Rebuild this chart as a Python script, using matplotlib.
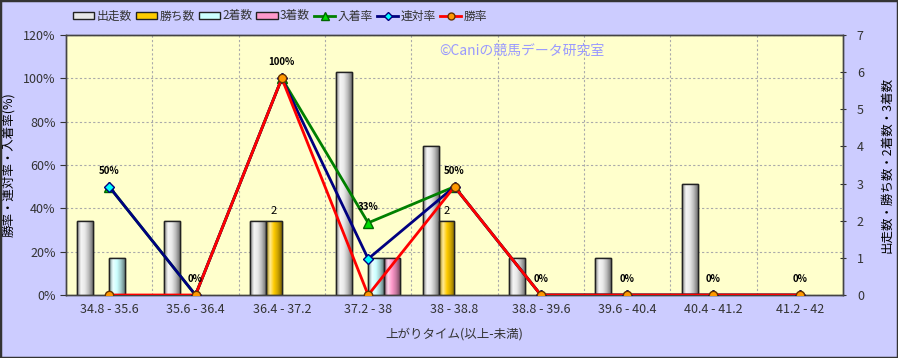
import numpy as np
import matplotlib.pyplot as plt
from matplotlib.patches import Patch, Rectangle
from matplotlib.lines import Line2D
from matplotlib.colors import LinearSegmentedColormap, to_rgb

plt.rcParams['font.family'] = ['Noto Sans CJK JP', 'DejaVu Sans']

# data
categories = ["34.8 - 35.6", "35.6 - 36.4", "36.4 - 37.2", "37.2 - 38", "38 - 38.8",
              "38.8 - 39.6", "39.6 - 40.4", "40.4 - 41.2", "41.2 - 42"]
runs = [2, 2, 2, 6, 4, 1, 1, 3, 0]          # 出走数
wins = [0, 0, 2, 0, 2, 0, 0, 0, 0]          # 勝ち数
seconds = [1, 0, 0, 1, 0, 0, 0, 0, 0]       # 2着数
thirds = [0, 0, 0, 1, 0, 0, 0, 0, 0]        # 3着数
place_rate = [50, 0, 100, 33.3, 50, 0, 0, 0, 0]    # 入着率
quinella_rate = [50, 0, 100, 16.7, 50, 0, 0, 0, 0]  # 連対率
win_rate = [0, 0, 100, 0, 50, 0, 0, 0, 0]           # 勝率
place_labels = ["50%", "0%", "100%", "33%", "50%", "0%", "0%", "0%", "0%"]

BG = "#CCCCFF"
PLOT_BG = "#FFFFCC"
TXT = "#333333"


def shade(col):
    """cylinder-like colormap: dark edge -> light middle -> dark edge"""
    c = np.array(to_rgb(col))
    dark = c * 0.55
    light = c + (1 - c) * 0.6
    return LinearSegmentedColormap.from_list("s", [dark, light, c, c * 0.8, dark * 0.9])


fig = plt.figure(figsize=(8.98, 3.58), dpi=100, facecolor=BG)
ax = fig.add_axes([66 / 898, 63 / 358, 777 / 898, 260 / 358])
ax.set_facecolor(PLOT_BG)
ax2 = ax.twinx()

x = np.arange(len(categories))
w = 0.185
bar_series = [
    (runs, "#E8E8E8", "出走数"),
    (wins, "#FFCC00", "勝ち数"),
    (seconds, "#CCFFFF", "2着数"),
    (thirds, "#FF99CC", "3着数"),
]
grad = np.linspace(0, 1, 64).reshape(1, -1)
for k, (vals, col, name) in enumerate(bar_series):
    vals = np.array(vals, dtype=float)
    keep = vals > 0
    bars = ax2.bar(x[keep] + (k - 1.5) * w, vals[keep], width=w, color=col,
                   edgecolor="#222222", linewidth=1.0, zorder=2)
    for b in bars:
        x0, y0 = b.get_x(), b.get_y()
        im = ax2.imshow(grad, extent=(x0, x0 + b.get_width(), y0, y0 + b.get_height()),
                        aspect="auto", cmap=shade(col), zorder=2.1)
        im.set_clip_path(b)
        ax2.add_patch(Rectangle((x0, y0), b.get_width(), b.get_height(), fill=False,
                                edgecolor="#222222", linewidth=1.0, zorder=2.2))

# count labels above the 勝ち数 bars
for xi, v in zip(x, wins):
    if v > 0:
        ax2.text(xi - 0.5 * w, v + 0.12, str(v), ha="center", va="bottom",
                 fontsize=8, color="black", zorder=5)

ax2.set_ylim(0, 7)
ax.set_ylim(0, 120)
ax.set_xlim(-0.5, len(categories) - 0.5)

# rate lines are drawn on the right axis scale so they sit above the bars
scale = 7 / 120
ax2.plot(x, np.array(place_rate) * scale, color="#008000", lw=2, marker="^",
         ms=7, mfc="#00DD00", mec="#006600", zorder=3)
ax2.plot(x, np.array(quinella_rate) * scale, color="#000080", lw=2, marker="D",
         ms=5, mfc="#00FFFF", mec="#000080", zorder=4)
ax2.plot(x, np.array(win_rate) * scale, color="#FF0000", lw=2, marker="o",
         ms=6, mfc="#FF9900", mec="#663300", zorder=4)

for xi, v, lab in zip(x, place_rate, place_labels):
    ax2.text(xi, v * scale + 0.3, lab, ha="center", va="bottom", fontsize=7,
             fontweight="bold", color="black", zorder=5)

# grid
ax.set_yticks(np.arange(0, 121, 20))
ax.set_yticklabels([f"{v}%" for v in range(0, 121, 20)])
ax.set_xticks(x)
ax.set_xticklabels(categories)
ax.set_xticks(np.arange(0.5, len(categories) - 0.5, 1), minor=True)
ax.grid(True, axis="y", which="major", color="#AAAAAA", ls=(0, (2, 2)), lw=0.8)
ax.grid(True, axis="x", which="minor", color="#AAAAAA", ls=(0, (2, 2)), lw=0.8)
ax.tick_params(axis="x", which="both", length=0, colors=TXT, labelsize=9, pad=6)
ax.tick_params(axis="y", length=4, colors=TXT, labelsize=9, direction="out")
ax2.set_yticks(range(0, 8))
ax2.tick_params(axis="y", length=4, colors=TXT, labelsize=9, direction="inout", pad=8)
ax.set_axisbelow(True)
for a in (ax, ax2):
    for sp in a.spines.values():
        sp.set_color("#444444")
        sp.set_linewidth(1)

ax.set_xlabel("上がりタイム(以上-未満)", fontsize=9, color=TXT, labelpad=8)
ax.set_ylabel("勝率・連対率・入着率(%)", fontsize=9, color="black", labelpad=6)
ax2.set_ylabel("出走数・勝ち数・2着数・3着数", fontsize=9, color="black", labelpad=12)

ax.text(0.481, 0.94, "©Caniの競馬データ研究室", transform=ax.transAxes,
        fontsize=10, color="#9999FF", ha="left", va="center", zorder=6)

handles = [Patch(facecolor=c, edgecolor="#222222", label=n) for _, c, n in bar_series]
handles += [
    Line2D([], [], color="#008000", lw=2, marker="^", ms=6, mfc="#00DD00",
           mec="#006600", label="入着率"),
    Line2D([], [], color="#000080", lw=2, marker="D", ms=4, mfc="#00FFFF",
           mec="#000080", label="連対率"),
    Line2D([], [], color="#FF0000", lw=2, marker="o", ms=5, mfc="#FF9900",
           mec="#663300", label="勝率"),
]
fig.legend(handles=handles, loc="center left", bbox_to_anchor=(62 / 898, 1 - 16 / 358),
           ncol=7, frameon=False, fontsize=8.5, handlelength=1.8, handleheight=0.5,
           handletextpad=0.2, columnspacing=0.35, labelcolor=TXT)

fig.patches.append(Rectangle((0, 0), 1, 1, transform=fig.transFigure, fill=False,
                             edgecolor="#333333", linewidth=2.5))

fig.savefig("out.png", dpi=100, facecolor=BG)
